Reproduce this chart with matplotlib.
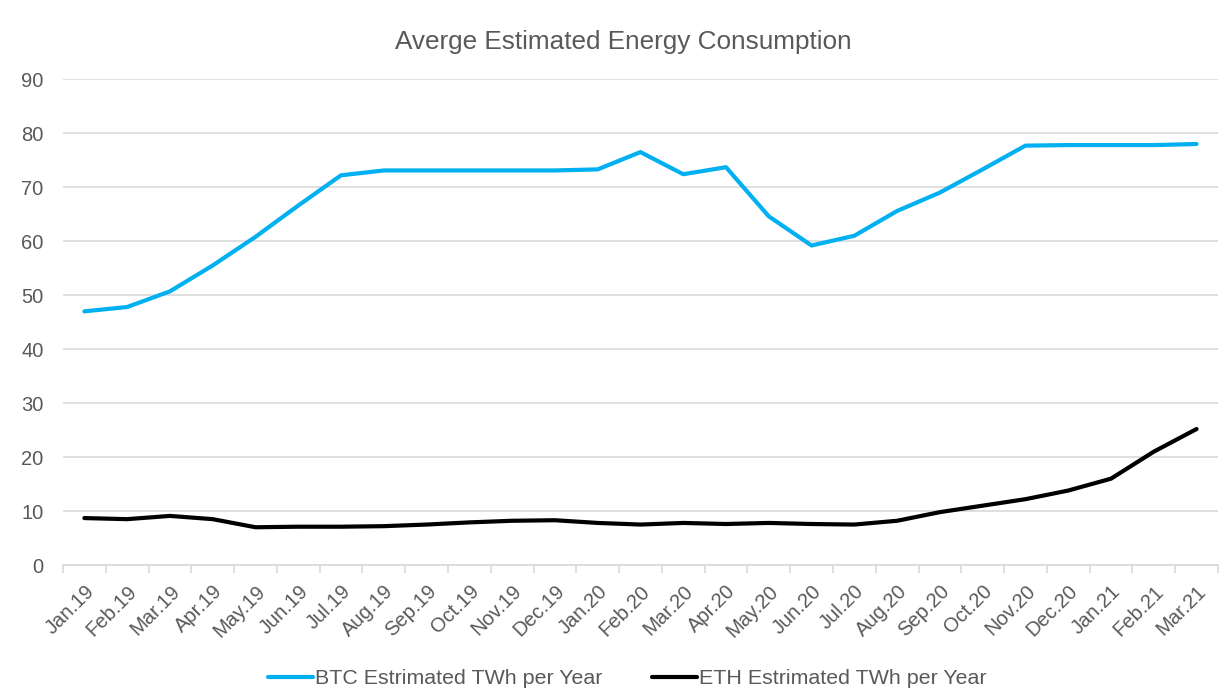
import numpy as np
import matplotlib
matplotlib.use("Agg")
import matplotlib.pyplot as plt

plt.rcParams['font.family'] = ['Liberation Sans', 'DejaVu Sans']

months = ["Jan.19", "Feb.19", "Mar.19", "Apr.19", "May.19", "Jun.19", "Jul.19",
          "Aug.19", "Sep.19", "Oct.19", "Nov.19", "Dec.19", "Jan.20", "Feb.20",
          "Mar.20", "Apr.20", "May.20", "Jun.20", "Jul.20", "Aug.20", "Sep.20",
          "Oct.20", "Nov.20", "Dec.20", "Jan.21", "Feb.21", "Mar.21"]

btc_twh = [47.0, 47.8, 50.7, 55.5, 60.8, 66.6, 72.2, 73.1, 73.1, 73.1, 73.1, 73.1,
           73.3, 76.5, 72.4, 73.7, 64.6, 59.2, 61.0, 65.6, 69.0, 73.3, 77.7, 77.8,
           77.8, 77.8, 78.0]

eth_twh = [8.7, 8.5, 9.1, 8.5, 7.0, 7.1, 7.1, 7.2, 7.5, 7.9, 8.2, 8.3,
           7.8, 7.5, 7.8, 7.6, 7.8, 7.6, 7.5, 8.2, 9.8, 11.0, 12.2, 13.8,
           16.0, 21.0, 25.2]

grey_text = '#595959'
grid_col = '#d9d9d9'

fig = plt.figure(figsize=(12.3, 6.95), dpi=100)
ax = fig.add_axes([0.0512, 0.187, 0.939, 0.699])

x = np.arange(len(months))
ax.plot(x, btc_twh, color='#00b0f0', lw=3.0, solid_capstyle='round',
        label='BTC Estrimated TWh per Year')
ax.plot(x, eth_twh, color='black', lw=3.0, solid_capstyle='round',
        label='ETH Estrimated TWh per Year')

ax.set_xlim(-0.5, len(months) - 0.5)
ax.set_ylim(0, 90)
ax.set_yticks(range(0, 91, 10))
ax.yaxis.grid(True, color=grid_col, lw=1.2)
ax.set_axisbelow(True)

ax.set_xticks(x)
ax.set_xticklabels(months, rotation=45, ha='right', rotation_mode='anchor')
ax.set_xticks(np.arange(-0.5, len(months), 1), minor=True)
ax.tick_params(axis='x', which='major', length=0, pad=12, labelsize=14.5, labelcolor=grey_text)
ax.tick_params(axis='x', which='minor', length=6, color=grid_col, width=1.2)
ax.tick_params(axis='y', length=0, pad=14, labelsize=14.5, labelcolor=grey_text)

for s in ['top', 'right', 'left']:
    ax.spines[s].set_visible(False)
ax.spines['bottom'].set_color(grid_col)
ax.spines['bottom'].set_linewidth(1.2)

fig.text(0.507, 0.939, 'Averge Estimated Energy Consumption', fontsize=18.8,
         color=grey_text, ha='center', va='center')

fig.legend(loc='lower center', bbox_to_anchor=(0.510, -0.018), ncol=2, frameon=False,
           fontsize=15.4, handlelength=2.1, handletextpad=0.1, columnspacing=2.3,
           labelcolor=grey_text)

fig.savefig('out.png', dpi=100)
